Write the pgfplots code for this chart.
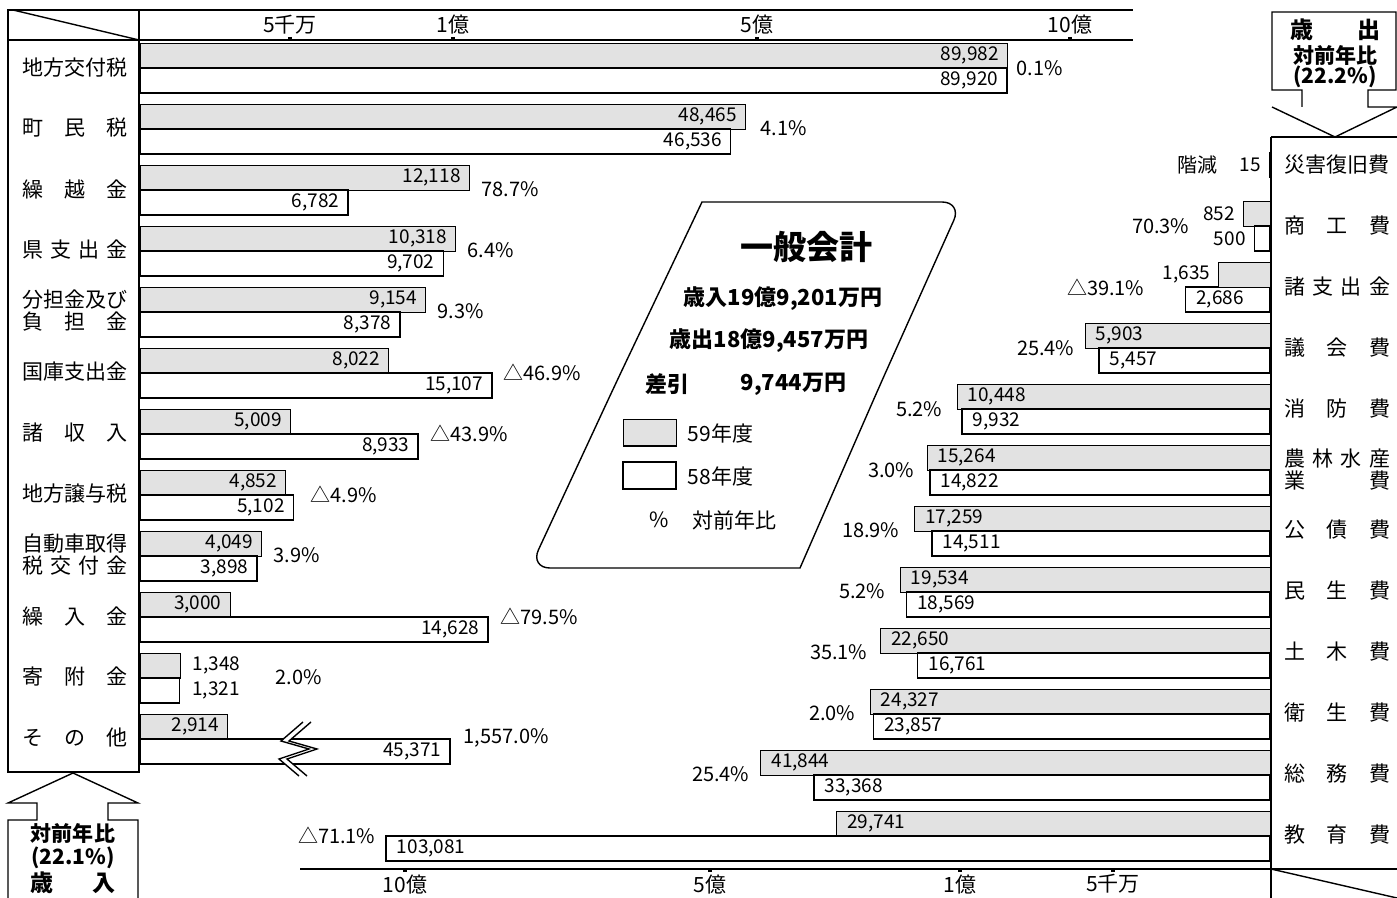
\documentclass[border=0pt]{standalone}
\usepackage{fontspec}
\setmainfont{Noto Sans CJK JP}
\usepackage{pgfplots}
\pgfplotsset{compat=1.18}
\usepackage{pgfplotstable}

\definecolor{tone}{gray}{0.885}
\newcommand\fnum{\fontsize{9.5}{11}\selectfont}
\newcommand\flab{\fontsize{10.5}{11}\selectfont}
\newcommand\fpct{\fontsize{10}{12}\selectfont}
\newcommand\J[1]{\makebox[53pt][s]{#1}}

% 歳入 (単位：万円)  d58 = 描画長（その他は省略線で短縮表示）
\pgfplotstableread{
row v59   v58   d58
1   89982 89920 89920
2   48465 46536 46536
3   12118 6782  6782
4   10318 9702  9702
5   9154  8378  8378
6   8022  15107 15107
7   5009  8933  8933
8   4852  5102  5102
9   4049  3898  3898
10  3000  14628 14628
11  1348  1321  1321
12  2914  45371 9908
}\revtab

% 歳出 (単位：万円)
\pgfplotstableread{
row v59   v58
2   852   500
3   1635  2686
4   5903  5457
5   10448 9932
6   15264 14822
7   17259 14511
8   19534 18569
9   22650 16761
10  24327 23857
11  41844 33368
12  29741 103081
}\exptab

\pgfplotsset{
  barax/.style={
    anchor=north west, scale only axis, height=366pt,
    ymin=0.541, ymax=12.541, y dir=reverse,
    axis y line=none, ytick=\empty, clip=false,
    x axis line style={-, line width=0.7pt},
    tick align=outside, major tick length=1.6pt,
    xtick style={line width=1.8pt, black},
    xticklabel style={font=\flab, inner sep=1pt},
    /pgf/number format/.cd, fixed, precision=0, 1000 sep={,}, assume math mode=true
  },
  b59/.style={xbar, bar width=12.5pt, bar shift=6.25pt, fill=tone, draw=black, line width=0.5pt,
    every node near coord/.append style={yshift=6.25pt}},
  b58/.style={xbar, bar width=12.5pt, bar shift=-6.25pt, fill=white, draw=black, line width=0.75pt,
    every node near coord/.append style={yshift=-6.25pt}},
  labE/.style={nodes near coords, point meta=explicit,
    every node near coord/.append style={font=\fnum, inner sep=1pt, anchor=east, xshift=-3pt}},
  labW/.style={nodes near coords, point meta=explicit,
    every node near coord/.append style={font=\fnum, inner sep=1pt, anchor=west, xshift=#1}},
}

\begin{document}
\begin{tikzpicture}
\path[use as bounding box] (0,0) rectangle (698.5pt,-449pt);

% ---------- 歳入 ----------
\begin{axis}[barax, at={(70pt,-20pt)}, width=496.5pt,
  xmin=0, xmax=993, axis x line*=top,
  xtick={150,313,617,930}, xticklabels={5千万,1億,5億,10億},
  x filter/.expression={0.03*x+0.0026*max(x-5000,0)-0.025*max(x-10000,0)-0.00134*max(x-50000,0)},
]
\addplot[b59, labE, skip coords between index={10}{11}] table[x=v59, y=row, meta=v59] {\revtab};
\addplot[b58, labE, skip coords between index={10}{11}] table[x=d58, y=row, meta=v58] {\revtab};
\addplot[b59, labW=5pt, restrict y to domain=10.5:11.5] table[x=v59, y=row, meta=v59] {\revtab};
\addplot[b58, labW=5pt, restrict y to domain=10.5:11.5] table[x=v58, y=row, meta=v58] {\revtab};
\end{axis}

% ---------- 歳出 ----------
\begin{axis}[barax, at={(150pt,-68.5pt)}, width=485pt,
  xmin=0, xmax=970, x dir=reverse, axis x line*=bottom,
  xtick={157,310,560,865}, xticklabels={5千万,1億,5億,10億},
  x filter/.expression={0.0314*x-0.0008*max(x-5000,0)-0.02435*max(x-10000,0)-0.00015*max(x-50000,0)},
]
\addplot[b59, labW=4pt, skip coords between index={0}{2}] table[x=v59, y=row, meta=v59] {\exptab};
\addplot[b58, labW=4pt, skip coords between index={0}{1}] table[x=v58, y=row, meta=v58] {\exptab};
\addplot[b59, labE, skip coords between index={2}{11}] table[x=v59, y=row, meta=v59] {\exptab};
\addplot[b58, labE, skip coords between index={1}{11}] table[x=v58, y=row, meta=v58] {\exptab};
\addplot[xbar, bar width=12.5pt, bar shift=0pt, fill=white, draw=black, line width=0.75pt, labE]
  coordinates {(15,1) [15]};
\end{axis}

\begin{scope}[x=0.5pt, y=-0.5pt, line width=0.7pt]
  % 左枠
  \draw (8,10) rectangle (139,772);
  \draw (8,40) -- (139,40);
  \draw (13,10) -- (139,40);
  \draw (139,10) -- (1133,10);
  % 左下矢印
  \draw (8,898) -- (8,820) -- (37,820) -- (37,803) -- (8,803) -- (73,773)
        -- (138,803) -- (108,803) -- (108,820) -- (138,820) -- (138,898);
  % 右上矢印
  \draw (1272,107) -- (1335,137) -- (1397,107) -- (1368,107) -- (1368,90) -- (1396,90)
        -- (1396,12) -- (1272,12) -- (1272,90) -- (1302,90) -- (1302,107);
  % 右枠
  \draw (1271,137) -- (1271,898);
  \draw (1271,137) -- (1397,137);
  \draw (1271,869) -- (1397,869);
  \draw (1271,869) -- (1397,898);
  % 省略線
  \fill[white] (303,722) -- (281,741) -- (309,749) -- (279,759) -- (299,776) -- (307,776)
        -- (287,759) -- (317,749) -- (289,741) -- (311,722) -- cycle;
  \draw (303,722) -- (281,741) -- (309,749) -- (279,759) -- (299,776);
  \draw (311,722) -- (289,741) -- (317,749) -- (287,759) -- (307,776);

  % 左ラベル
  \begin{scope}[every node/.style={font=\flab, align=center, inner sep=0pt}]
  \node at (75,68)  {\J{地方交付税}};
  \node at (75,128) {\J{町 民 税}};
  \node at (75,189) {\J{繰 越 金}};
  \node at (75,250) {\J{県 支 出 金}};
  \node at (75,311) {\J{分担金及び}\\\J{負 担 金}};
  \node at (75,372) {\J{国庫支出金}};
  \node at (75,433) {\J{諸 収 入}};
  \node at (75,494) {\J{地方譲与税}};
  \node at (75,555) {\J{自動車取得}\\\J{税 交 付 金}};
  \node at (75,616) {\J{繰 入 金}};
  \node at (75,677) {\J{寄 附 金}};
  \node at (75,738) {\J{そ の 他}};
  % 右ラベル
  \node at (1337,165) {\J{災害復旧費}};
  \node at (1337,226) {\J{商 工 費}};
  \node at (1337,287) {\J{諸 支 出 金}};
  \node at (1337,348) {\J{議 会 費}};
  \node at (1337,409) {\J{消 防 費}};
  \node at (1337,470) {\J{農 林 水 産}\\\J{業 費}};
  \node at (1337,530) {\J{公 債 費}};
  \node at (1337,591) {\J{民 生 費}};
  \node at (1337,652) {\J{土 木 費}};
  \node at (1337,713) {\J{衛 生 費}};
  \node at (1337,774) {\J{総 務 費}};
  \node at (1337,835) {\J{教 育 費}};
  \end{scope}

  % 対前年比（歳入）
  \begin{scope}[every node/.style={font=\fpct, anchor=west, inner sep=0pt}]
  \node at (1016,68) {0.1\%};
  \node at (760,128) {4.1\%};
  \node at (481,189) {78.7\%};
  \node at (467,250) {6.4\%};
  \node at (437,311) {9.3\%};
  \node at (503,372) {△46.9\%};
  \node at (430,433) {△43.9\%};
  \node at (310,494) {△4.9\%};
  \node at (273,555) {3.9\%};
  \node at (500,616) {△79.5\%};
  \node at (275,677) {2.0\%};
  \node at (463,738) {1,557.0\%};
  \end{scope}
  % 対前年比（歳出）
  \begin{scope}[every node/.style={font=\fpct, anchor=east, inner sep=0pt}]
  \node at (1218,165) {階減};
  \node at (1190,226) {70.3\%};
  \node at (1145,287) {△39.1\%};
  \node at (1075,348) {25.4\%};
  \node at (943,409) {5.2\%};
  \node at (915,470) {3.0\%};
  \node at (900,530) {18.9\%};
  \node at (886,591) {5.2\%};
  \node at (868,652) {35.1\%};
  \node at (856,713) {2.0\%};
  \node at (750,774) {25.4\%};
  \node at (376,835) {△71.1\%};
  \end{scope}

  % 矢印内テキスト
  \begin{scope}[every node/.style={inner sep=0pt, font=\bfseries\fontsize{10.5}{12}\selectfont}]
  \node at (73,833) {対前年比};
  \node at (73,858) {(22.1\%)};
  \node[font=\bfseries\fontsize{11.5}{12}\selectfont] at (73,883) {\makebox[43pt][s]{歳 入}};
  \node[font=\bfseries\fontsize{11.5}{12}\selectfont] at (1335,30) {\makebox[45pt][s]{歳 出}};
  \node at (1335,55) {対前年比};
  \node at (1335,77) {(22.2\%)};
  \end{scope}

  % 凡例ボックス
  \draw (702,202) -- (850,202) [rounded corners=10pt] -- (962,202) -- (880,385)
        [sharp corners] -- (800,568) -- (660,568) [rounded corners=10pt] -- (530,568)
        -- (615,385) [sharp corners] -- cycle;
  \node[font=\bfseries\fontsize{16.5}{18}\selectfont] at (806,247) {一般会計};
  \node[font=\bfseries\fontsize{11}{13}\selectfont] at (783,299) {歳入19億9,201万円};
  \node[font=\bfseries\fontsize{11}{13}\selectfont] at (769,341) {歳出18億9,457万円};
  \node[font=\bfseries\fontsize{11}{13}\selectfont, anchor=west, inner sep=0pt] at (645,384) {差引};
  \node[font=\bfseries\fontsize{11}{13}\selectfont, anchor=west, inner sep=0pt] at (740,384) {9,744万円};
  \draw[fill=tone, line width=0.5pt] (623,420) rectangle (676,446);
  \node[font=\flab, anchor=west, inner sep=0pt] at (687,433) {59年度};
  \draw[line width=0.6pt] (623,462) rectangle (676,489);
  \node[font=\flab, anchor=west, inner sep=0pt] at (687,476) {58年度};
  \node[font=\flab, inner sep=0pt] at (659,520) {\%};
  \node[font=\flab, anchor=west, inner sep=0pt] at (692,520) {対前年比};
\end{scope}
\end{tikzpicture}
\end{document}
